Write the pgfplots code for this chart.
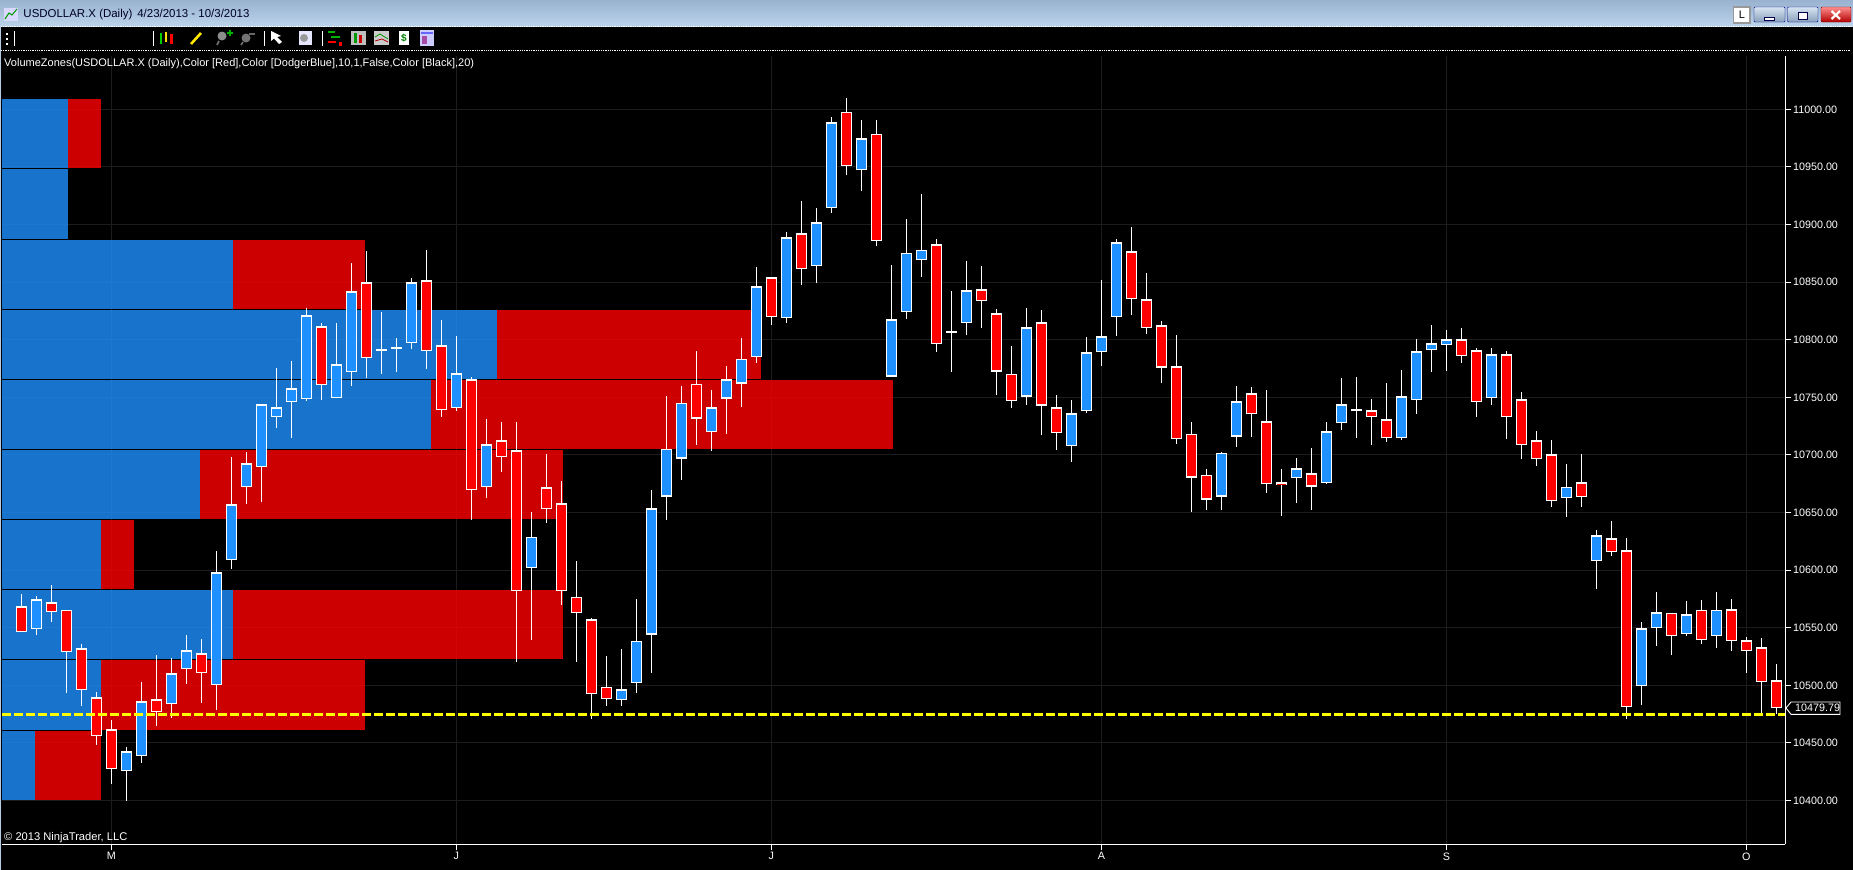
\documentclass[border=0pt]{standalone}
\usepackage{fontspec}
\setmainfont{Liberation Sans}
\usepackage{pgfplots}
\usepackage{pgfplotstable}
\pgfplotsset{compat=1.18}
\definecolor{cblue}{HTML}{1E90FF}
\definecolor{cred}{HTML}{FF0000}
\definecolor{cgrid}{HTML}{1C1C1C}
\definecolor{tbtop}{HTML}{99B2CF}
\definecolor{tbbot}{HTML}{BBD3EA}
\definecolor{cyel}{HTML}{FFFF00}
% x = bar number, high, body top, body bottom, low
\pgfplotstableread{
x high top bottom low
1 10577.5 10574.6 10549.1 10543.6
7 10446.1 10442.6 10425.9 10399.8
8 10502.8 10486.1 10438.9 10432.8
10 10523.4 10510.4 10484.0 10471.9
11 10543.6 10530.3 10514.4 10501.1
13 10616.5 10598.0 10500.5 10478.5
14 10697.8 10657.0 10609.0 10600.9
15 10702.2 10692.6 10672.4 10657.3
16 10744.0 10743.8 10689.7 10659.0
17 10775.4 10741.2 10733.1 10723.3
18 10781.5 10757.7 10746.1 10714.6
19 10827.5 10821.1 10748.8 10746.7
21 10814.4 10778.6 10749.6 10749.6
22 10866.6 10842.0 10772.2 10759.8
26 10853.5 10849.8 10797.4 10791.9
29 10803.2 10770.8 10741.0 10738.0
31 10730.8 10709.1 10672.4 10662.5
34 10650.4 10629.2 10602.0 10539.3
40 10531.5 10496.5 10487.5 10482.0
41 10574.9 10538.2 10502.3 10493.3
42 10669.6 10653.6 10544.0 10510.7
43 10751.2 10704.9 10663.8 10643.5
44 10759.8 10744.8 10696.8 10678.2
46 10756.4 10741.3 10720.2 10703.4
47 10777.2 10765.6 10748.9 10718.2
48 10801.4 10783.3 10761.9 10741.6
49 10863.1 10846.3 10785.3 10779.8
51 10893.5 10888.8 10819.1 10814.5
53 10914.3 10901.9 10864.2 10849.2
54 10993.3 10988.7 10914.6 10910.0
56 10990.7 10974.8 10947.6 10929.1
58 10864.8 10817.6 10768.0 10768.0
59 10904.8 10875.0 10824.3 10817.9
60 10926.5 10877.6 10869.5 10854.4
63 10868.3 10842.8 10814.8 10804.0
67 10827.5 10810.7 10750.6 10743.3
70 10747.7 10736.1 10708.0 10693.9
71 10802.3 10789.0 10738.4 10736.4
72 10851.8 10802.9 10789.0 10777.2
73 10887.4 10884.5 10820.0 10803.2
80 10702.5 10701.4 10663.8 10652.2
81 10759.8 10746.5 10715.9 10706.9
85 10697.2 10688.3 10680.2 10658.2
87 10728.5 10720.4 10675.8 10675.0
88 10766.7 10743.8 10727.3 10721.5
92 10773.6 10750.8 10714.9 10712.9
93 10800.6 10789.9 10747.9 10735.4
94 10812.7 10796.8 10791.3 10771.9
95 10808.4 10800.3 10795.6 10772.8
98 10792.7 10787.2 10749.6 10743.3
103 10692.0 10672.6 10662.8 10646.0
105 10634.7 10630.1 10608.1 10583.9
108 10554.6 10549.4 10499.7 10482.9
109 10581.0 10563.3 10550.0 10534.1
111 10573.2 10561.6 10544.8 10543.1
113 10581.0 10565.1 10543.1 10532.4
}\upbars
\pgfplotstableread{
x high top bottom low
0 10579.2 10568.5 10546.0 10546.0
2 10587.1 10572.0 10563.9 10554.9
3 10565.1 10565.1 10529.2 10493.3
4 10535.5 10532.0 10496.2 10482.0
5 10494.2 10489.5 10456.2 10448.1
6 10469.9 10461.7 10427.6 10414.3
9 10526.3 10487.8 10477.1 10464.6
12 10540.2 10527.7 10510.9 10484.6
20 10814.4 10811.6 10760.9 10747.6
23 10877.0 10849.8 10784.4 10766.7
27 10877.9 10851.5 10790.4 10774.5
28 10816.8 10795.1 10739.2 10732.8
30 10767.6 10765.5 10669.8 10643.4
32 10728.5 10712.6 10698.4 10685.1
33 10728.5 10703.9 10582.1 10520.5
35 10700.7 10671.8 10653.3 10641.1
36 10677.3 10657.9 10582.1 10569.7
37 10607.8 10576.4 10563.0 10520.5
38 10558.4 10557.2 10492.7 10471.0
39 10525.5 10498.5 10488.4 10482.0
45 10790.2 10761.3 10731.5 10708.6
50 10854.1 10854.1 10820.0 10812.7
52 10920.4 10892.3 10861.6 10847.5
55 11009.8 10997.4 10951.1 10943.0
57 10990.7 10978.3 10885.9 10881.3
61 10887.4 10882.8 10796.5 10789.4
64 10863.9 10843.7 10833.9 10810.0
65 10826.6 10822.9 10772.3 10752.0
66 10794.5 10770.0 10747.1 10740.8
68 10825.8 10815.0 10742.8 10717.3
69 10752.0 10741.3 10719.3 10704.3
74 10897.8 10876.7 10835.6 10821.4
75 10857.9 10835.0 10809.8 10804.9
76 10816.2 10812.4 10775.8 10762.4
77 10804.0 10776.9 10714.1 10709.5
78 10728.6 10717.9 10680.3 10650.4
79 10687.8 10682.3 10661.2 10652.2
82 10758.9 10753.4 10735.2 10715.5
83 10756.3 10729.1 10674.4 10667.1
84 10687.7 10676.1 10673.5 10646.9
86 10705.9 10683.9 10672.6 10652.4
90 10748.5 10738.6 10733.1 10708.5
91 10762.4 10730.8 10714.3 10711.1
96 10810.1 10800.3 10786.1 10779.7
97 10792.5 10790.7 10746.1 10732.8
99 10790.1 10787.2 10733.1 10713.7
100 10754.5 10748.2 10708.8 10696.4
101 10720.7 10712.6 10696.7 10690.3
102 10712.9 10700.4 10660.2 10654.7
104 10700.7 10676.1 10663.7 10654.7
106 10642.5 10627.5 10615.9 10612.0
107 10627.8 10617.1 10481.4 10471.0
110 10562.5 10562.5 10543.1 10526.3
112 10574.0 10565.1 10539.6 10535.8
114 10574.9 10565.9 10538.7 10529.8
115 10542.2 10539.0 10530.0 10510.7
116 10541.0 10532.9 10503.1 10474.0
117 10518.5 10504.3 10480.0 10474.8
}\downbars
\pgfplotstableread{
x high top bottom low
24 10824.0 10791.9 10790.1 10770.2
25 10801.4 10793.6 10791.8 10771.9
62 10842.2 10807.5 10805.7 10772.0
89 10767.6 10740.1 10738.3 10714.6
}\dojibars
\newcommand{\wicks}[1]{\addplot[draw=none, mark=none, forget plot, error bars/.cd, y dir=plus, y explicit, error mark=none,
   error bar style={white, line width=1.1bp}]
   table[x=x, y=low, y error plus expr=\thisrow{high}-\thisrow{low}] {#1};}
\newcommand{\bodyouter}[1]{\addplot[draw=none, mark=none, forget plot, error bars/.cd, y dir=plus, y explicit, error mark=none,
   error bar style={white, line width=11bp}]
   table[x=x, y=bottom, y error plus expr=\thisrow{top}-\thisrow{bottom}] {#1};}
\newcommand{\bodyinner}[2]{\addplot[draw=none, mark=none, forget plot, error bars/.cd, y dir=plus, y explicit, error mark=none,
   error bar style={#2, line width=8.6bp}]
   table[x=x, y expr=\thisrow{bottom}+1.0, y error plus expr=\thisrow{top}-\thisrow{bottom}-2.0] {#1};}
\newcommand{\zone}[5]{\addplot[fill=#5, fill opacity=0.8, draw=none, forget plot] coordinates {(#3,#1)(#4,#1)(#4,#2)(#3,#2)} --cycle;}
\begin{document}
\begin{tikzpicture}
\useasboundingbox (0,0) rectangle (1853bp,-870bp);
\fill[black] (0,0) rectangle (1853bp,-870bp);
\begin{axis}[
  at={(2bp,-844.3bp)}, anchor=south west, scale only axis,
  width=1783.4bp, height=788.3bp,
  xmin=-1.293, xmax=117.6, ymin=10362, ymax=11046.3,
  axis x line=bottom, axis y line=right,
  axis line style={white, line width=1.2bp, -},
  tick style={white, line width=1bp}, tick align=outside, major tick length=6bp,
  xtick={6,29,50,72,95,115}, xticklabels={M,J,J,A,S,O},
  ytick={10400,10450,...,11000},
  scaled y ticks=false,
  grid=major, grid style={cgrid, line width=1bp},
  tick label style={font=\fontsize{10.8}{12}\selectfont, text=white},
  yticklabel style={inner sep=1.5bp, /pgf/number format/fixed, /pgf/number format/fixed zerofill, /pgf/number format/precision=2, /pgf/number format/1000 sep={}, /pgf/number format/assume math mode=true},
  xticklabel style={inner sep=2bp},
  clip=true,
]
% volume zones: lower price, upper price, left, right, colour
\zone{10949.3}{11008.9}{-1.293}{3.107}{cblue}
\zone{10949.3}{11008.9}{3.107}{5.293}{cred}
\zone{10887.4}{10948.2}{-1.293}{3.107}{cblue}
\zone{10826.6}{10886.5}{-1.293}{14.1}{cblue}
\zone{10826.6}{10886.5}{14.1}{22.907}{cred}
\zone{10765.9}{10825.8}{-1.293}{31.707}{cblue}
\zone{10765.9}{10825.8}{31.707}{49.307}{cred}
\zone{10705.1}{10765.0}{-1.293}{27.307}{cblue}
\zone{10705.1}{10765.0}{27.307}{58.093}{cred}
\zone{10644.4}{10704.2}{-1.293}{11.887}{cblue}
\zone{10644.4}{10704.2}{11.887}{36.107}{cred}
\zone{10583.6}{10643.5}{-1.293}{5.293}{cblue}
\zone{10583.6}{10643.5}{5.293}{7.507}{cred}
\zone{10522.8}{10582.7}{-1.293}{14.107}{cblue}
\zone{10522.8}{10582.7}{14.107}{36.107}{cred}
\zone{10461.5}{10521.9}{-1.293}{5.293}{cblue}
\zone{10461.5}{10521.9}{5.293}{22.907}{cred}
\zone{10400.4}{10460.3}{-1.293}{0.92}{cblue}
\zone{10400.4}{10460.3}{0.92}{5.293}{cred}
% candles
\wicks{\upbars}\wicks{\downbars}\wicks{\dojibars}
\bodyouter{\upbars}\bodyouter{\downbars}\bodyouter{\dojibars}
\bodyinner{\upbars}{cblue}\bodyinner{\downbars}{cred}
% support line
\addplot[cyel, line width=3bp, dash pattern=on 9bp off 3bp, forget plot] coordinates {(-1.293,10474.8)(117.6,10474.8)};
\end{axis}
\begin{scope}[x=1bp,y=-1bp]
% window chrome
\shade[top color=tbtop, bottom color=tbbot] (0,0) rectangle (1853,26);
\fill[tbbot!80!tbtop] (0,26) rectangle (1.5,870);
\draw[white, densely dotted, line width=0.8bp] (1,26.3) -- (1853,26.3);
\draw[white, densely dotted, line width=0.8bp] (1,50.7) -- (1850,50.7);
\node[anchor=west, inner sep=0, text=black!85!blue, font=\fontsize{11.5}{13}\selectfont] at (23.3,14.7) {USDOLLAR.X (Daily)\hspace{5bp}4/23/2013 - 10/3/2013};
\fill[white!85!blue] (4,8) rectangle (18,21);
\draw[green!60!black, line width=1bp] (5,19) -- (9,13) -- (12,15) -- (17,9);
\node[anchor=west, inner sep=0, text=white, font=\fontsize{11.05}{12}\selectfont] at (4,63.3) {VolumeZones(USDOLLAR.X (Daily),Color [Red],Color [DodgerBlue],10,1,False,Color [Black],20)};
\node[anchor=west, inner sep=0, text=white, font=\fontsize{11.2}{12}\selectfont] at (4,838) {© 2013 NinjaTrader, LLC};
% toolbar
\foreach \x in {14,153,264,322} \draw[white, line width=1bp] (\x,31) -- (\x,46);
\foreach \y in {33,38,43} \fill[white] (6,\y) rectangle (7.5,\y+1.5);
\fill[green!80!black] (159.5,33) rectangle (162,44);
\fill[yellow!80!orange] (164.5,32) rectangle (167,42);
\fill[red] (169.5,34) rectangle (172.5,44);
\draw[yellow!90!orange, line width=2.6bp] (191,44) -- (201,33);
\fill[black!45!white] (222,36) circle (4.5);
\draw[black!55!white, line width=1.6bp] (219,41) -- (217,45);
\fill[green!70!black] (227,32) rectangle (233,34);
\fill[green!70!black] (229,30) rectangle (231,36);
\fill[black!55!white] (246,38) circle (4.5);
\draw[black!55!white, line width=1.6bp] (243,42) -- (241,45);
\fill[black!60!white] (249,33) rectangle (255,35);
\fill[white] (271,31) -- (271,41) -- (274,38.5) -- (279,44) -- (282,42) -- (277,37) -- (281,36) -- cycle;
\fill[white!90!blue] (299,31) rectangle (312,45);
\fill[black!40!white] (304,38) circle (4);
\fill[red] (328,41) rectangle (336,43);
\fill[green!70!black] (328,31) rectangle (335,33);
\fill[green!70!black] (331,36) rectangle (340,38);
\fill[red] (339,42) rectangle (342,46);
\fill[white!75!black] (351,31) rectangle (366,45);
\fill[green!60!black] (354,33) rectangle (356.5,43);
\fill[red!80!black] (359,35) rectangle (361.5,43);
\fill[white!80!black] (374,31) rectangle (389,45);
\draw[green!60!black, line width=0.8bp] (375,37) -- (380,34) -- (388,39);
\draw[red!70!black, line width=0.8bp] (375,41) -- (382,39) -- (388,42);
\fill[white] (399,31) rectangle (409,45);
\node[text=green!50!black, inner sep=0, font=\bfseries\fontsize{10}{10}\selectfont] at (404,38) {\$};
\fill[white!80!blue] (420,30) rectangle (434,46);
\fill[blue!60!white] (421,32) rectangle (433,34);
\fill[violet!70!white] (422,36) rectangle (427,44);
% window buttons
\fill[white] (1733.5,7) rectangle (1750,23);
\draw[black!40!white, line width=1.5bp] (1733.5,7) rectangle (1750,23);
\node[inner sep=0, text=black, font=\fontsize{11}{12}\selectfont] at (1741.8,15) {L};
\shade[top color=tbbot!60!white, bottom color=tbtop!90!black, rounded corners=1bp, draw=black!45!blue] (1754,7) rectangle (1785,22);
\fill[white, draw=black!70!blue] (1764,17) rectangle (1774,20);
\shade[top color=tbbot!60!white, bottom color=tbtop!90!black, rounded corners=1bp, draw=black!45!blue] (1787.5,7) rectangle (1818,22);
\draw[black!70!blue, fill=white, line width=1bp] (1798,12) rectangle (1807,19);
\shade[top color=red!45!white, bottom color=red!70!black, rounded corners=1bp, draw=black!50!red] (1821,7) rectangle (1851,22);
\draw[white, line width=2.2bp] (1831.5,11) -- (1840,19) (1840,11) -- (1831.5,19);
% last price label
\draw[white, fill=black, line width=0.9bp] (1786,708) -- (1791,702) -- (1840,702) -- (1840,714.3) -- (1791,714.3) -- cycle;
\node[anchor=west, inner sep=0, text=white, font=\fontsize{10.8}{12}\selectfont] at (1795,708.2) {10479.79};
\end{scope}
\end{tikzpicture}
\end{document}
